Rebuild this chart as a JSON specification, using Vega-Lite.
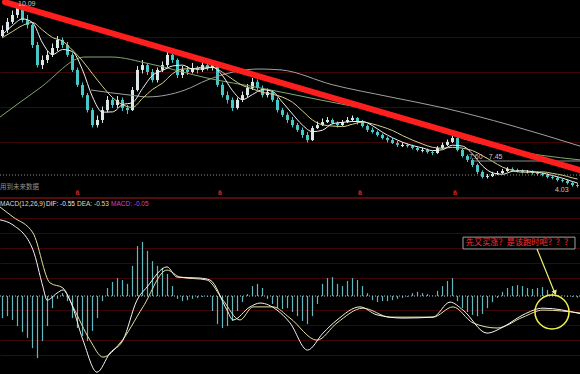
{
  "$schema": "https://vega.github.io/schema/vega-lite/v6.json",
  "width": 580,
  "height": 374,
  "autosize": {"type": "none"},
  "padding": 0,
  "background": "#000000",
  "config": {"view": {"stroke": null}, "axis": {"domain": false, "ticks": false, "labels": false, "title": null}},
  "data": {"values": [{"one": 1}]},
  "datasets": {
    "k": [
      {"i":0,"o":9.00,"c":9.20,"h":9.35,"l":8.95,"m":-0.69},
      {"i":1,"o":9.20,"c":9.47,"h":9.60,"l":9.10,"m":-0.63},
      {"i":2,"o":9.47,"c":9.70,"h":9.85,"l":9.40,"m":-0.75},
      {"i":3,"o":9.70,"c":9.93,"h":10.10,"l":9.60,"m":-0.94},
      {"i":4,"o":9.93,"c":9.53,"h":10.00,"l":9.45,"m":-1.13},
      {"i":5,"o":9.53,"c":9.37,"h":9.70,"l":9.25,"m":-1.31},
      {"i":6,"o":9.37,"c":8.70,"h":9.45,"l":8.60,"m":-1.63},
      {"i":7,"o":8.70,"c":8.03,"h":8.80,"l":7.95,"m":-1.94},
      {"i":8,"o":8.03,"c":8.20,"h":8.35,"l":7.90,"m":-1.41},
      {"i":9,"o":8.20,"c":8.37,"h":8.50,"l":8.10,"m":-0.94},
      {"i":10,"o":8.37,"c":8.60,"h":8.75,"l":8.30,"m":-0.38},
      {"i":11,"o":8.60,"c":8.87,"h":9.00,"l":8.50,"m":-0.09},
      {"i":12,"o":8.87,"c":8.70,"h":8.95,"l":8.60,"m":0.09},
      {"i":13,"o":8.70,"c":8.37,"h":8.80,"l":8.30,"m":-0.16},
      {"i":14,"o":8.37,"c":7.87,"h":8.45,"l":7.80,"m":-0.69},
      {"i":15,"o":7.87,"c":7.37,"h":7.95,"l":7.30,"m":-1.00},
      {"i":16,"o":7.37,"c":7.03,"h":7.45,"l":6.95,"m":-1.25},
      {"i":17,"o":7.03,"c":6.53,"h":7.10,"l":6.45,"m":-1.41},
      {"i":18,"o":6.53,"c":6.03,"h":6.60,"l":5.95,"m":-1.09},
      {"i":19,"o":6.03,"c":6.20,"h":6.35,"l":5.95,"m":-0.69},
      {"i":20,"o":6.20,"c":6.53,"h":6.65,"l":6.10,"m":-0.16},
      {"i":21,"o":6.53,"c":6.87,"h":7.00,"l":6.45,"m":0.25},
      {"i":22,"o":6.87,"c":6.70,"h":6.95,"l":6.60,"m":0.44},
      {"i":23,"o":6.70,"c":6.87,"h":7.00,"l":6.60,"m":0.56},
      {"i":24,"o":6.87,"c":6.60,"h":6.95,"l":6.50,"m":0.50},
      {"i":25,"o":6.60,"c":6.53,"h":6.70,"l":6.40,"m":0.38},
      {"i":26,"o":6.53,"c":7.20,"h":7.30,"l":6.50,"m":0.94},
      {"i":27,"o":7.20,"c":7.87,"h":8.00,"l":7.15,"m":1.56},
      {"i":28,"o":7.87,"c":8.03,"h":8.20,"l":7.75,"m":1.69},
      {"i":29,"o":8.03,"c":7.80,"h":8.10,"l":7.70,"m":1.41},
      {"i":30,"o":7.80,"c":7.53,"h":7.90,"l":7.45,"m":1.09},
      {"i":31,"o":7.53,"c":7.87,"h":7.95,"l":7.45,"m":0.94},
      {"i":32,"o":7.87,"c":8.03,"h":8.15,"l":7.80,"m":0.88},
      {"i":33,"o":8.03,"c":8.37,"h":8.50,"l":7.95,"m":0.69},
      {"i":34,"o":8.37,"c":8.20,"h":8.45,"l":8.10,"m":0.31},
      {"i":35,"o":8.20,"c":7.70,"h":8.25,"l":7.60,"m":-0.09},
      {"i":36,"o":7.70,"c":7.87,"h":8.00,"l":7.60,"m":-0.16},
      {"i":37,"o":7.87,"c":7.80,"h":8.00,"l":7.70,"m":-0.13},
      {"i":38,"o":7.80,"c":7.93,"h":8.10,"l":7.75,"m":-0.09},
      {"i":39,"o":7.93,"c":7.87,"h":8.00,"l":7.75,"m":-0.06},
      {"i":40,"o":7.87,"c":8.03,"h":8.15,"l":7.80,"m":-0.03},
      {"i":41,"o":8.03,"c":7.93,"h":8.10,"l":7.85,"m":-0.03},
      {"i":42,"o":7.93,"c":8.03,"h":8.15,"l":7.85,"m":-0.47},
      {"i":43,"o":8.03,"c":7.37,"h":8.10,"l":7.30,"m":-0.88},
      {"i":44,"o":7.37,"c":7.03,"h":7.45,"l":6.95,"m":-1.00},
      {"i":45,"o":7.03,"c":6.87,"h":7.15,"l":6.75,"m":-0.94},
      {"i":46,"o":6.87,"c":6.60,"h":6.95,"l":6.50,"m":-0.78},
      {"i":47,"o":6.60,"c":6.87,"h":6.95,"l":6.55,"m":-0.47},
      {"i":48,"o":6.87,"c":7.03,"h":7.15,"l":6.80,"m":-0.19},
      {"i":49,"o":7.03,"c":7.27,"h":7.40,"l":6.95,"m":0.06},
      {"i":50,"o":7.27,"c":7.47,"h":7.60,"l":7.20,"m":0.31},
      {"i":51,"o":7.47,"c":7.27,"h":7.55,"l":7.20,"m":0.38},
      {"i":52,"o":7.27,"c":7.03,"h":7.35,"l":6.95,"m":0.25},
      {"i":53,"o":7.03,"c":7.13,"h":7.25,"l":6.95,"m":-0.09},
      {"i":54,"o":7.13,"c":6.87,"h":7.20,"l":6.80,"m":-0.25},
      {"i":55,"o":6.87,"c":6.53,"h":6.95,"l":6.45,"m":-0.38},
      {"i":56,"o":6.53,"c":6.37,"h":6.60,"l":6.30,"m":-0.41},
      {"i":57,"o":6.37,"c":6.20,"h":6.45,"l":6.10,"m":-0.38},
      {"i":58,"o":6.20,"c":6.03,"h":6.30,"l":5.95,"m":-0.50},
      {"i":59,"o":6.03,"c":5.87,"h":6.10,"l":5.80,"m":-0.63},
      {"i":60,"o":5.87,"c":5.70,"h":5.95,"l":5.60,"m":-0.78},
      {"i":61,"o":5.70,"c":5.53,"h":5.80,"l":5.45,"m":-0.88},
      {"i":62,"o":5.53,"c":5.93,"h":6.00,"l":5.50,"m":-0.63},
      {"i":63,"o":5.93,"c":6.03,"h":6.15,"l":5.90,"m":-0.25},
      {"i":64,"o":6.03,"c":6.13,"h":6.25,"l":6.00,"m":0.38},
      {"i":65,"o":6.13,"c":6.20,"h":6.30,"l":6.10,"m":0.56},
      {"i":66,"o":6.20,"c":6.10,"h":6.25,"l":6.05,"m":0.59},
      {"i":67,"o":6.10,"c":6.03,"h":6.15,"l":5.95,"m":0.38},
      {"i":68,"o":6.03,"c":6.13,"h":6.20,"l":6.00,"m":0.31},
      {"i":69,"o":6.13,"c":6.20,"h":6.30,"l":6.10,"m":0.47},
      {"i":70,"o":6.20,"c":6.27,"h":6.35,"l":6.15,"m":0.56},
      {"i":71,"o":6.27,"c":6.13,"h":6.30,"l":6.05,"m":0.50},
      {"i":72,"o":6.13,"c":6.00,"h":6.20,"l":5.95,"m":0.31},
      {"i":73,"o":6.00,"c":5.87,"h":6.05,"l":5.80,"m":0.09},
      {"i":74,"o":5.87,"c":5.80,"h":5.95,"l":5.75,"m":-0.13},
      {"i":75,"o":5.80,"c":5.70,"h":5.85,"l":5.65,"m":-0.19},
      {"i":76,"o":5.70,"c":5.60,"h":5.75,"l":5.55,"m":-0.16},
      {"i":77,"o":5.60,"c":5.53,"h":5.65,"l":5.45,"m":-0.16},
      {"i":78,"o":5.53,"c":5.43,"h":5.60,"l":5.40,"m":-0.13},
      {"i":79,"o":5.43,"c":5.37,"h":5.50,"l":5.30,"m":-0.09},
      {"i":80,"o":5.33,"c":5.37,"h":5.45,"l":5.30,"m":-0.06},
      {"i":81,"o":5.37,"c":5.33,"h":5.42,"l":5.28,"m":-0.03},
      {"i":82,"o":5.33,"c":5.27,"h":5.38,"l":5.22,"m":0.09},
      {"i":83,"o":5.27,"c":5.20,"h":5.32,"l":5.15,"m":0.13},
      {"i":84,"o":5.17,"c":5.20,"h":5.28,"l":5.12,"m":0.09},
      {"i":85,"o":5.20,"c":5.13,"h":5.25,"l":5.08,"m":0.06},
      {"i":86,"o":5.13,"c":5.10,"h":5.18,"l":5.03,"m":0.01},
      {"i":87,"o":5.10,"c":5.27,"h":5.33,"l":5.07,"m":0.16},
      {"i":88,"o":5.27,"c":5.37,"h":5.45,"l":5.23,"m":0.31},
      {"i":89,"o":5.37,"c":5.47,"h":5.55,"l":5.33,"m":0.47},
      {"i":90,"o":5.47,"c":5.60,"h":5.70,"l":5.43,"m":0.56},
      {"i":91,"o":5.60,"c":5.20,"h":5.63,"l":5.15,"m":-0.16},
      {"i":92,"o":5.20,"c":5.00,"h":5.25,"l":4.95,"m":-0.38},
      {"i":93,"o":5.00,"c":4.87,"h":5.05,"l":4.80,"m":-0.50},
      {"i":94,"o":4.87,"c":4.70,"h":4.92,"l":4.63,"m":-0.59},
      {"i":95,"o":4.70,"c":4.47,"h":4.75,"l":4.40,"m":-0.63},
      {"i":96,"o":4.47,"c":4.30,"h":4.52,"l":4.25,"m":-0.56},
      {"i":97,"o":4.30,"c":4.33,"h":4.40,"l":4.25,"m":-0.38},
      {"i":98,"o":4.33,"c":4.40,"h":4.47,"l":4.30,"m":-0.19},
      {"i":99,"o":4.40,"c":4.43,"h":4.50,"l":4.37,"m":-0.06},
      {"i":100,"o":4.43,"c":4.50,"h":4.57,"l":4.40,"m":0.13},
      {"i":101,"o":4.50,"c":4.57,"h":4.63,"l":4.47,"m":0.25},
      {"i":102,"o":4.57,"c":4.53,"h":4.62,"l":4.48,"m":0.31},
      {"i":103,"o":4.53,"c":4.50,"h":4.58,"l":4.45,"m":0.34},
      {"i":104,"o":4.50,"c":4.47,"h":4.55,"l":4.42,"m":0.31},
      {"i":105,"o":4.45,"c":4.47,"h":4.53,"l":4.42,"m":0.25},
      {"i":106,"o":4.47,"c":4.43,"h":4.52,"l":4.38,"m":0.22},
      {"i":107,"o":4.43,"c":4.40,"h":4.48,"l":4.35,"m":0.25},
      {"i":108,"o":4.40,"c":4.37,"h":4.45,"l":4.32,"m":0.28},
      {"i":109,"o":4.37,"c":4.30,"h":4.42,"l":4.25,"m":0.19},
      {"i":110,"o":4.30,"c":4.27,"h":4.35,"l":4.22,"m":0.09},
      {"i":111,"o":4.27,"c":4.20,"h":4.32,"l":4.15,"m":0.03},
      {"i":112,"o":4.20,"c":4.17,"h":4.25,"l":4.12,"m":0.01},
      {"i":113,"o":4.17,"c":4.10,"h":4.22,"l":4.05,"m":-0.03},
      {"i":114,"o":4.10,"c":4.03,"h":4.15,"l":3.98,"m":-0.03},
      {"i":115,"o":4.03,"c":4.00,"h":4.10,"l":3.95,"m":-0.05}
    ],
    "ma5": [
      {"i":0,"v":9.05},{"i":2,"v":9.35},{"i":4,"v":9.57},{"i":6,"v":9.45},{"i":8,"v":8.77},{"i":10,"v":8.38},{"i":12,"v":8.55},{"i":14,"v":8.48},{"i":16,"v":7.87},{"i":18,"v":6.97},{"i":20,"v":6.46},{"i":22,"v":6.47},{"i":24,"v":6.71},{"i":26,"v":6.78},{"i":28,"v":7.25},{"i":30,"v":7.69},{"i":32,"v":7.85},{"i":34,"v":8.00},{"i":36,"v":8.03},{"i":38,"v":7.90},{"i":40,"v":7.90},{"i":42,"v":7.96},{"i":44,"v":7.68},{"i":46,"v":7.18},{"i":48,"v":6.88},{"i":50,"v":7.05},{"i":52,"v":7.21},{"i":54,"v":7.15},{"i":56,"v":6.79},{"i":58,"v":6.40},{"i":60,"v":6.03},{"i":62,"v":5.81},{"i":64,"v":5.86},{"i":66,"v":6.08},{"i":68,"v":6.12},{"i":70,"v":6.15},{"i":72,"v":6.15},{"i":74,"v":6.01},{"i":76,"v":5.79},{"i":78,"v":5.61},{"i":80,"v":5.46},{"i":82,"v":5.35},{"i":84,"v":5.27},{"i":86,"v":5.18},{"i":88,"v":5.21},{"i":90,"v":5.36},{"i":92,"v":5.33},{"i":94,"v":5.07},{"i":96,"v":4.67},{"i":98,"v":4.44},{"i":100,"v":4.39},{"i":102,"v":4.49},{"i":104,"v":4.51},{"i":106,"v":4.48},{"i":108,"v":4.43},{"i":110,"v":4.35},{"i":112,"v":4.26},{"i":114,"v":4.15},{"i":115,"v":4.10}
    ],
    "ma10": [
      {"i":0,"v":8.95},{"i":2,"v":9.15},{"i":4,"v":9.35},{"i":6,"v":9.45},{"i":8,"v":9.20},{"i":10,"v":8.95},{"i":12,"v":8.83},{"i":14,"v":8.53},{"i":16,"v":8.17},{"i":18,"v":7.74},{"i":20,"v":7.32},{"i":22,"v":6.95},{"i":24,"v":6.71},{"i":26,"v":6.62},{"i":28,"v":6.92},{"i":30,"v":7.22},{"i":32,"v":7.43},{"i":34,"v":7.74},{"i":36,"v":7.90},{"i":38,"v":7.91},{"i":40,"v":7.96},{"i":42,"v":7.96},{"i":44,"v":7.79},{"i":46,"v":7.56},{"i":48,"v":7.35},{"i":50,"v":7.24},{"i":52,"v":7.12},{"i":54,"v":7.06},{"i":56,"v":6.96},{"i":58,"v":6.79},{"i":60,"v":6.50},{"i":62,"v":6.20},{"i":64,"v":6.04},{"i":66,"v":6.00},{"i":68,"v":5.98},{"i":70,"v":6.06},{"i":72,"v":6.13},{"i":74,"v":6.07},{"i":76,"v":5.97},{"i":78,"v":5.85},{"i":80,"v":5.68},{"i":82,"v":5.53},{"i":84,"v":5.40},{"i":86,"v":5.29},{"i":88,"v":5.26},{"i":90,"v":5.29},{"i":92,"v":5.26},{"i":94,"v":5.18},{"i":96,"v":5.01},{"i":98,"v":4.82},{"i":100,"v":4.63},{"i":102,"v":4.52},{"i":104,"v":4.46},{"i":106,"v":4.46},{"i":108,"v":4.47},{"i":110,"v":4.42},{"i":112,"v":4.36},{"i":114,"v":4.27},{"i":115,"v":4.23}
    ],
    "mag": [
      {"i":-0.5,"v":6.30},{"i":7.5,"v":7.27},{"i":16.5,"v":8.30},{"i":21.7,"v":8.30},{"i":29.5,"v":8.07},{"i":40.9,"v":7.60},{"i":51.5,"v":7.27},{"i":63.5,"v":6.87},{"i":75.5,"v":6.47},{"i":85.5,"v":6.03},{"i":90,"v":5.70},{"i":100,"v":5.25},{"i":115.5,"v":4.87}
    ],
    "mab": [
      {"i":17.7,"v":7.20},{"i":25.5,"v":7.03},{"i":29,"v":6.97},{"i":36.5,"v":7.20},{"i":40.9,"v":7.53},{"i":51.3,"v":7.90},{"i":55.7,"v":7.87},{"i":66.1,"v":7.37},{"i":77.5,"v":6.97},{"i":88.3,"v":6.60},{"i":101.5,"v":6.03},{"i":115.5,"v":5.33}
    ],
    "dif": [
      {"i":-0.5,"v":2.38},{"i":2.1,"v":2.22},{"i":6.1,"v":1.44},{"i":8.1,"v":0.28},{"i":8.9,"v":-0.13},{"i":10.9,"v":0.09},{"i":12.1,"v":0.19},{"i":13.5,"v":-0.13},{"i":16.1,"v":-1.38},{"i":18.9,"v":-2.38},{"i":21.5,"v":-1.78},{"i":24.1,"v":-1.38},{"i":26.9,"v":-0.13},{"i":28.9,"v":0.28},{"i":32.9,"v":0.91},{"i":34.9,"v":0.59},{"i":39.5,"v":0.56},{"i":41.5,"v":0.50},{"i":44.9,"v":-0.44},{"i":46.1,"v":-0.75},{"i":49.5,"v":-0.34},{"i":51.5,"v":-0.22},{"i":54.9,"v":-0.44},{"i":57.5,"v":-0.84},{"i":61,"v":-1.69},{"i":64.1,"v":-1.16},{"i":66.9,"v":-0.75},{"i":71.5,"v":-0.34},{"i":74.9,"v":-0.59},{"i":80.1,"v":-0.69},{"i":86.1,"v":-0.66},{"i":89.5,"v":-0.19},{"i":92.1,"v":-0.44},{"i":96.9,"v":-1.16},{"i":100.1,"v":-0.97},{"i":104.1,"v":-0.59},{"i":108.1,"v":-0.38},{"i":115.5,"v":-0.55}
    ],
    "dea": [
      {"i":-0.5,"v":2.78},{"i":2.1,"v":2.47},{"i":6.1,"v":1.97},{"i":9.5,"v":0.41},{"i":12.1,"v":0.25},{"i":14.1,"v":-0.34},{"i":17.5,"v":-1.38},{"i":20.1,"v":-1.91},{"i":23.5,"v":-1.47},{"i":28.1,"v":-0.34},{"i":32.9,"v":0.81},{"i":35.5,"v":0.59},{"i":40.9,"v":0.50},{"i":44.1,"v":-0.13},{"i":47.5,"v":-0.75},{"i":50.1,"v":-0.34},{"i":54.1,"v":-0.34},{"i":57.5,"v":-0.69},{"i":62.9,"v":-1.38},{"i":66.9,"v":-0.84},{"i":72.1,"v":-0.38},{"i":77.5,"v":-0.66},{"i":86.1,"v":-0.66},{"i":90.1,"v":-0.34},{"i":94.1,"v":-0.84},{"i":98.9,"v":-1.00},{"i":104.1,"v":-0.66},{"i":108.1,"v":-0.44},{"i":115.5,"v":-0.53}
    ],
    "marks": [{"i":15},{"i":43.5},{"i":71.5},{"i":90.5}]
  },
  "resolve": {"scale": {"y": "independent"}},
  "layer": [
    {
      "data": {"name": "k"},
      "mark": {"type": "rule", "strokeWidth": 1},
      "encoding": {
        "x": {"field": "i", "type": "quantitative", "scale": {"domain": [-0.5, 115.5], "nice": false, "zero": false}, "axis": null},
        "y": {"field": "l", "type": "quantitative", "scale": {"domain": [-2.2667, 10.2], "nice": false, "zero": false},
              "axis": {"orient": "left", "grid": true, "gridColor": "#3c0606", "gridWidth": 1, "values": [8.97, 7.8, 6.63, 5.47], "labels": false, "ticks": false, "domain": false, "title": null}},
        "y2": {"field": "h"},
        "color": {"condition": {"test": "datum.c >= datum.o", "value": "#d8e8e8"}, "value": "#46c8c8"}
      }
    },
    {
      "data": {"name": "k"},
      "mark": {"type": "rule", "strokeWidth": 3, "strokeCap": "butt"},
      "encoding": {
        "x": {"field": "i", "type": "quantitative", "scale": {"domain": [-0.5, 115.5], "nice": false, "zero": false}, "axis": null},
        "y": {"field": "o", "type": "quantitative", "scale": {"domain": [-2.2667, 10.2], "nice": false, "zero": false}, "axis": null},
        "y2": {"field": "c"},
        "color": {"condition": {"test": "datum.c >= datum.o", "value": "#d8e8e8"}, "value": "#46c8c8"}
      }
    },
    {
      "data": {"name": "mab"},
      "mark": {"type": "line", "color": "#a0a0a0", "strokeWidth": 1, "interpolate": "monotone"},
      "encoding": {
        "x": {"field": "i", "type": "quantitative", "scale": {"domain": [-0.5, 115.5], "nice": false, "zero": false}, "axis": null},
        "y": {"field": "v", "type": "quantitative", "scale": {"domain": [-2.2667, 10.2], "nice": false, "zero": false}, "axis": null}
      }
    },
    {
      "data": {"name": "mag"},
      "mark": {"type": "line", "color": "#7fa870", "strokeWidth": 1, "interpolate": "monotone"},
      "encoding": {
        "x": {"field": "i", "type": "quantitative", "scale": {"domain": [-0.5, 115.5], "nice": false, "zero": false}, "axis": null},
        "y": {"field": "v", "type": "quantitative", "scale": {"domain": [-2.2667, 10.2], "nice": false, "zero": false}, "axis": null}
      }
    },
    {
      "data": {"name": "ma10"},
      "mark": {"type": "line", "color": "#d8cf8a", "strokeWidth": 1, "interpolate": "monotone"},
      "encoding": {
        "x": {"field": "i", "type": "quantitative", "scale": {"domain": [-0.5, 115.5], "nice": false, "zero": false}, "axis": null},
        "y": {"field": "v", "type": "quantitative", "scale": {"domain": [-2.2667, 10.2], "nice": false, "zero": false}, "axis": null}
      }
    },
    {
      "data": {"name": "ma5"},
      "mark": {"type": "line", "color": "#f0f0f0", "strokeWidth": 1, "interpolate": "monotone"},
      "encoding": {
        "x": {"field": "i", "type": "quantitative", "scale": {"domain": [-0.5, 115.5], "nice": false, "zero": false}, "axis": null},
        "y": {"field": "v", "type": "quantitative", "scale": {"domain": [-2.2667, 10.2], "nice": false, "zero": false}, "axis": null}
      }
    },
    {
      "mark": {"type": "rule", "color": "#7f9f7f", "strokeWidth": 1, "strokeDash": [1, 2]},
      "encoding": {
        "y": {"datum": 4.367, "type": "quantitative", "scale": {"domain": [-2.2667, 10.2], "nice": false, "zero": false}, "axis": null}
      }
    },
    {
      "mark": {"type": "rule", "color": "#8a8a8a", "strokeWidth": 1},
      "encoding": {
        "x": {"datum": 94.1, "type": "quantitative", "scale": {"domain": [-0.5, 115.5], "nice": false, "zero": false}, "axis": null},
        "x2": {"datum": 115.5},
        "y": {"datum": 4.833, "type": "quantitative", "scale": {"domain": [-2.2667, 10.2], "nice": false, "zero": false}, "axis": null}
      }
    },
    {
      "mark": {"type": "rule", "color": "#ff1e1e", "strokeWidth": 6, "strokeCap": "round"},
      "encoding": {
        "x": {"datum": 0.5, "type": "quantitative", "scale": {"domain": [-0.5, 115.5], "nice": false, "zero": false}, "axis": null},
        "x2": {"datum": 115.5},
        "y": {"datum": 10.13, "type": "quantitative", "scale": {"domain": [-2.2667, 10.2], "nice": false, "zero": false}, "axis": null},
        "y2": {"datum": 4.53}
      }
    },
    {
      "mark": {"type": "text", "color": "#c8c8c8", "fontSize": 7, "font": "Liberation Sans", "align": "left", "baseline": "middle"},
      "encoding": {
        "x": {"datum": 3.1, "type": "quantitative", "scale": {"domain": [-0.5, 115.5], "nice": false, "zero": false}, "axis": null},
        "y": {"datum": 10.07, "type": "quantitative", "scale": {"domain": [-2.2667, 10.2], "nice": false, "zero": false}, "axis": null},
        "text": {"value": "10.09"}
      }
    },
    {
      "mark": {"type": "text", "color": "#c8c8c8", "fontSize": 7, "font": "Liberation Sans", "align": "left", "baseline": "middle"},
      "encoding": {
        "x": {"datum": 93.3, "type": "quantitative", "scale": {"domain": [-0.5, 115.5], "nice": false, "zero": false}, "axis": null},
        "y": {"datum": 4.95, "type": "quantitative", "scale": {"domain": [-2.2667, 10.2], "nice": false, "zero": false}, "axis": null},
        "text": {"value": "7.60 - 7.45"}
      }
    },
    {
      "mark": {"type": "text", "color": "#c8c8c8", "fontSize": 7, "font": "Liberation Sans", "align": "left", "baseline": "middle"},
      "encoding": {
        "x": {"datum": 110.5, "type": "quantitative", "scale": {"domain": [-0.5, 115.5], "nice": false, "zero": false}, "axis": null},
        "y": {"datum": 3.87, "type": "quantitative", "scale": {"domain": [-2.2667, 10.2], "nice": false, "zero": false}, "axis": null},
        "text": {"value": "4.03"}
      }
    },
    {
      "data": {"name": "k"},
      "mark": {"type": "rule", "strokeWidth": 1.2, "color": "#5fb8c0"},
      "encoding": {
        "x": {"field": "i", "type": "quantitative", "scale": {"domain": [-0.5, 115.5], "nice": false, "zero": false}, "axis": null},
        "y": {"field": "m", "type": "quantitative", "scale": {"domain": [-2.4375, 9.25], "nice": false, "zero": false},
              "axis": {"orient": "right", "grid": true, "gridColor": "#3c0606", "gridWidth": 1, "values": [2.44, 1.97, 1.5, 1.03, 0.56, -0.44, -0.91, -1.38, -1.84], "labels": false, "ticks": false, "domain": false, "title": null}},
        "y2": {"datum": 0}
      }
    },
    {
      "mark": {"type": "rule", "color": "#b0c0c0", "strokeWidth": 1, "strokeDash": [1, 2]},
      "encoding": {
        "y": {"datum": 0, "type": "quantitative", "scale": {"domain": [-2.4375, 9.25], "nice": false, "zero": false}, "axis": null}
      }
    },
    {
      "mark": {"type": "rule", "color": "#701010", "strokeWidth": 1.5},
      "encoding": {
        "y": {"datum": 3.0625, "type": "quantitative", "scale": {"domain": [-2.4375, 9.25], "nice": false, "zero": false}, "axis": null}
      }
    },
    {
      "data": {"name": "marks"},
      "mark": {"type": "text", "color": "#d02828", "fontSize": 7, "font": "Liberation Sans", "fontWeight": "bold", "align": "center", "baseline": "middle"},
      "encoding": {
        "x": {"field": "i", "type": "quantitative", "scale": {"domain": [-0.5, 115.5], "nice": false, "zero": false}, "axis": null},
        "y": {"datum": 3.22, "type": "quantitative", "scale": {"domain": [-2.4375, 9.25], "nice": false, "zero": false}, "axis": null},
        "text": {"value": "ä"}
      }
    },
    {
      "data": {"name": "dea"},
      "mark": {"type": "line", "color": "#e6e0a0", "strokeWidth": 1, "interpolate": "monotone"},
      "encoding": {
        "x": {"field": "i", "type": "quantitative", "scale": {"domain": [-0.5, 115.5], "nice": false, "zero": false}, "axis": null},
        "y": {"field": "v", "type": "quantitative", "scale": {"domain": [-2.4375, 9.25], "nice": false, "zero": false}, "axis": null}
      }
    },
    {
      "data": {"name": "dif"},
      "mark": {"type": "line", "color": "#f4f4f4", "strokeWidth": 1, "interpolate": "monotone"},
      "encoding": {
        "x": {"field": "i", "type": "quantitative", "scale": {"domain": [-0.5, 115.5], "nice": false, "zero": false}, "axis": null},
        "y": {"field": "v", "type": "quantitative", "scale": {"domain": [-2.4375, 9.25], "nice": false, "zero": false}, "axis": null}
      }
    },
    {
      "mark": {"type": "text", "color": "#909090", "fontSize": 6.5, "font": "Noto Sans CJK SC", "align": "left", "baseline": "middle"},
      "encoding": {
        "x": {"datum": -0.5, "type": "quantitative", "scale": {"domain": [-0.5, 115.5], "nice": false, "zero": false}, "axis": null},
        "y": {"datum": 3.406, "type": "quantitative", "scale": {"domain": [-2.4375, 9.25], "nice": false, "zero": false}, "axis": null},
        "text": {"value": "用到未来数据"}
      }
    },
    {
      "mark": {"type": "text", "color": "#d8d8d8", "fontSize": 6.5, "font": "Liberation Sans", "align": "left", "baseline": "middle"},
      "encoding": {
        "x": {"datum": -0.5, "type": "quantitative", "scale": {"domain": [-0.5, 115.5], "nice": false, "zero": false}, "axis": null},
        "y": {"datum": 2.875, "type": "quantitative", "scale": {"domain": [-2.4375, 9.25], "nice": false, "zero": false}, "axis": null},
        "text": {"value": "MACD(12,26,9)"}
      }
    },
    {
      "mark": {"type": "text", "color": "#e8e8e8", "fontSize": 6.5, "font": "Liberation Sans", "align": "left", "baseline": "middle"},
      "encoding": {
        "x": {"datum": 8.7, "type": "quantitative", "scale": {"domain": [-0.5, 115.5], "nice": false, "zero": false}, "axis": null},
        "y": {"datum": 2.875, "type": "quantitative", "scale": {"domain": [-2.4375, 9.25], "nice": false, "zero": false}, "axis": null},
        "text": {"value": "DIF: -0.55"}
      }
    },
    {
      "mark": {"type": "text", "color": "#e0dca0", "fontSize": 6.5, "font": "Liberation Sans", "align": "left", "baseline": "middle"},
      "encoding": {
        "x": {"datum": 14.9, "type": "quantitative", "scale": {"domain": [-0.5, 115.5], "nice": false, "zero": false}, "axis": null},
        "y": {"datum": 2.875, "type": "quantitative", "scale": {"domain": [-2.4375, 9.25], "nice": false, "zero": false}, "axis": null},
        "text": {"value": "DEA: -0.53"}
      }
    },
    {
      "mark": {"type": "text", "color": "#d040d0", "fontSize": 6.5, "font": "Liberation Sans", "align": "left", "baseline": "middle"},
      "encoding": {
        "x": {"datum": 21.7, "type": "quantitative", "scale": {"domain": [-0.5, 115.5], "nice": false, "zero": false}, "axis": null},
        "y": {"datum": 2.875, "type": "quantitative", "scale": {"domain": [-2.4375, 9.25], "nice": false, "zero": false}, "axis": null},
        "text": {"value": "MACD: -0.05"}
      }
    },
    {
      "mark": {"type": "rect", "fill": "#000000", "stroke": "#a0a0a0", "strokeWidth": 1},
      "encoding": {
        "x": {"datum": 92.1, "type": "quantitative", "scale": {"domain": [-0.5, 115.5], "nice": false, "zero": false}, "axis": null},
        "x2": {"datum": 114.5},
        "y": {"datum": 1.84, "type": "quantitative", "scale": {"domain": [-2.4375, 9.25], "nice": false, "zero": false}, "axis": null},
        "y2": {"datum": 1.47}
      }
    },
    {
      "mark": {"type": "text", "color": "#ff3030", "fontSize": 8.2, "font": "Noto Sans CJK SC", "align": "center", "baseline": "middle"},
      "encoding": {
        "x": {"datum": 103.3, "type": "quantitative", "scale": {"domain": [-0.5, 115.5], "nice": false, "zero": false}, "axis": null},
        "y": {"datum": 1.65, "type": "quantitative", "scale": {"domain": [-2.4375, 9.25], "nice": false, "zero": false}, "axis": null},
        "text": {"value": "先又买涨？是该跑时吧？？？"}
      }
    },
    {
      "mark": {"type": "rule", "color": "#f0f070", "strokeWidth": 1.2},
      "encoding": {
        "x": {"datum": 106.9, "type": "quantitative", "scale": {"domain": [-0.5, 115.5], "nice": false, "zero": false}, "axis": null},
        "x2": {"datum": 110.4},
        "y": {"datum": 1.47, "type": "quantitative", "scale": {"domain": [-2.4375, 9.25], "nice": false, "zero": false}, "axis": null},
        "y2": {"datum": 0.12}
      }
    },
    {
      "mark": {"type": "point", "shape": "triangle-down", "filled": true, "color": "#f0f070", "size": 30, "angle": 339, "opacity": 1},
      "encoding": {
        "x": {"datum": 110.5, "type": "quantitative", "scale": {"domain": [-0.5, 115.5], "nice": false, "zero": false}, "axis": null},
        "y": {"datum": 0.1, "type": "quantitative", "scale": {"domain": [-2.4375, 9.25], "nice": false, "zero": false}, "axis": null}
      }
    },
    {
      "mark": {"type": "point", "shape": "circle", "filled": false, "color": "#f0f050", "size": 1156, "strokeWidth": 1.5, "opacity": 1},
      "encoding": {
        "x": {"datum": 109.9, "type": "quantitative", "scale": {"domain": [-0.5, 115.5], "nice": false, "zero": false}, "axis": null},
        "y": {"datum": -0.5, "type": "quantitative", "scale": {"domain": [-2.4375, 9.25], "nice": false, "zero": false}, "axis": null}
      }
    }
  ]
}
